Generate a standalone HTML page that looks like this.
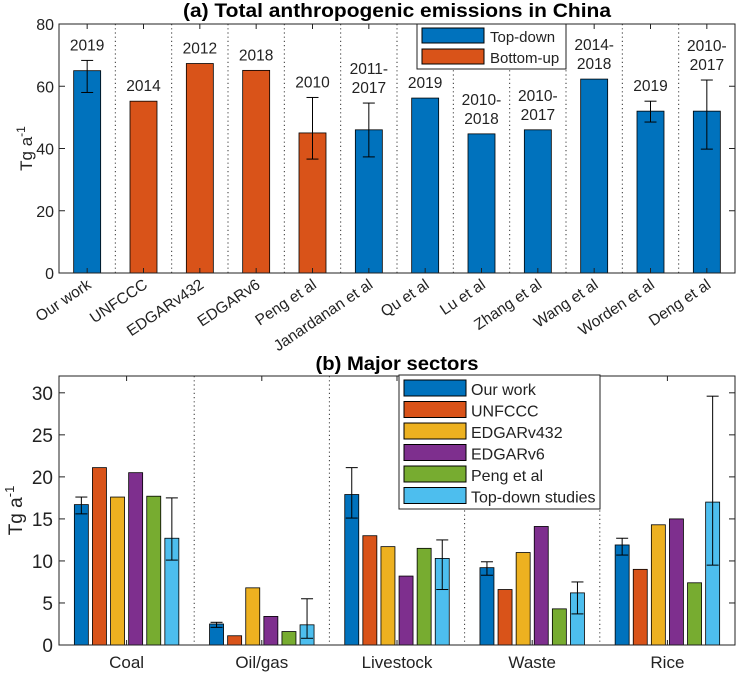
<!DOCTYPE html>
<html><head><meta charset="utf-8"><style>
body{margin:0;background:#fff}
svg{font-family:"Liberation Sans",Arial,sans-serif}
</style></head><body>
<svg id="c" width="736" height="675" viewBox="0 0 736 675" xmlns="http://www.w3.org/2000/svg"></svg>
<script>
// Panel (a)
const catsA=["Our work","UNFCCC","EDGARv432","EDGARv6","Peng et al","Janardanan et al","Qu et al","Lu et al","Zhang et al","Wang et al","Worden et al","Deng et al"];
const valsA=[65,55.2,67.3,65.1,45,46,56.2,44.7,46,62.3,52,52];
const typeA=[0,1,1,1,1,0,0,0,0,0,0,0];
const errLoA=[58,null,null,null,36.6,37.3,null,null,null,null,48.5,39.8];
const errHiA=[68.3,null,null,null,56.4,54.6,null,null,null,null,55.2,62];
const yearsA=[["2019"],["2014"],["2012"],["2018"],["2010"],["2011-","2017"],["2019"],["2010-","2018"],["2010-","2017"],["2014-","2018"],["2019"],["2010-","2017"]];
const ticksA=[0,20,40,60,80];
// Panel (b)
const sectors=["Coal","Oil/gas","Livestock","Waste","Rice"];
const seriesB=["Our work","UNFCCC","EDGARv432","EDGARv6","Peng et al","Top-down studies"];
const vOur=[16.7,2.5,17.9,9.2,11.9];
const vUnf=[21.1,1.1,13,6.6,9];
const vE432=[17.6,6.8,11.7,11,14.3];
const vE6=[20.5,3.4,8.2,14.1,15];
const vPeng=[17.7,1.6,11.5,4.3,7.4];
const vTD=[12.7,2.4,10.3,6.2,17];
const ourLo=[15.6,2.1,15.1,8.3,10.7], ourHi=[17.6,2.7,21.1,9.9,12.7];
const tdLo=[10.1,0.8,6.6,3.7,9.5], tdHi=[17.5,5.5,12.5,7.5,29.6];
const ticksB=[0,5,10,15,20,25,30];

const colors=["#0072BD","#D95319","#EDB120","#7E2F8E","#77AC30","#4DBEEE"];
const svg=document.getElementById('c');
const NS="http://www.w3.org/2000/svg";
function el(t,a,p){const e=document.createElementNS(NS,t);for(const k in a)e.setAttribute(k,a[k]);(p||svg).appendChild(e);return e;}
function txt(s,a,p){const e=el('text',a,p);e.textContent=s;return e;}

// ---- panel a
const L=59,R=735,aT=24,aB=273,aMax=80;
const ya=v=>aB-(v/aMax)*(aB-aT);
const bwA=(R-L)/catsA.length;
const xa=i=>L+bwA*(i+0.5);
const gA=el('g',{});


for(let i=1;i<catsA.length;i++){const x=L+bwA*i;el('line',{x1:x,x2:x,y1:aT,y2:aB,stroke:'#333','stroke-dasharray':'1.2,3','stroke-width':1},gA);}
catsA.forEach((c,i)=>{
  const r=el('rect',{x:xa(i)-13.5,y:ya(valsA[i]),width:27,height:aB-ya(valsA[i]),fill:colors[typeA[i]],stroke:'#000','stroke-width':0.8},gA);
  
  
  let top=ya(valsA[i]);
  if(errLoA[i]!=null){
    const x=xa(i);
    el('line',{x1:x,x2:x,y1:ya(errLoA[i]),y2:ya(errHiA[i]),stroke:'#000'},gA);
    el('line',{x1:x-6,x2:x+6,y1:ya(errLoA[i]),y2:ya(errLoA[i]),stroke:'#000'},gA);
    el('line',{x1:x-6,x2:x+6,y1:ya(errHiA[i]),y2:ya(errHiA[i]),stroke:'#000'},gA);
    top=Math.min(top,ya(errHiA[i]));
  }
  const yr=yearsA[i];
  yr.forEach((s,k)=>{const t=txt(s,{x:xa(i),y:top-10-(yr.length-1-k)*19,'text-anchor':'middle','font-size':15.5,fill:'#222'},gA);
    });
  const lb=txt(c,{transform:`translate(${xa(i)+5},${aB+14}) rotate(-34)`,'text-anchor':'end','font-size':15.5,fill:'#222'},gA);
  
  el('line',{x1:xa(i),x2:xa(i),y1:aB,y2:aB-5,stroke:'#222'},gA);
  el('line',{x1:xa(i),x2:xa(i),y1:aT,y2:aT+5,stroke:'#222'},gA);
});
ticksA.forEach(t=>{const y=ya(t);
  el('line',{x1:L,x2:L+6,y1:y,y2:y,stroke:'#222'},gA);el('line',{x1:R,x2:R-6,y1:y,y2:y,stroke:'#222'},gA);
  const tl=txt(String(t),{x:L-5,y:y+6,'text-anchor':'end','font-size':16,fill:'#222'},gA);
  });
el('rect',{x:L,y:aT,width:R-L,height:aB-aT,fill:'none',stroke:'#222','stroke-width':1},gA);
const ta=txt('(a) Total anthropogenic emissions in China',{x:397,y:17,'text-anchor':'middle','font-size':19,'font-weight':'bold',textLength:428,lengthAdjust:'spacingAndGlyphs'},gA);

const yla=el('text',{transform:`translate(32,${(aT+aB)/2}) rotate(-90)`,'text-anchor':'middle','font-size':17,fill:'#222'},gA);
yla.innerHTML='Tg a<tspan dy="-7" font-size="12">-1</tspan>';

// legend a
const lgA=el('g',{},gA);

el('rect',{x:417,y:24,width:149,height:45,fill:'#fff',stroke:'#222'},lgA);
["Top-down","Bottom-up"].forEach((s,k)=>{
  el('rect',{x:422,y:28+k*21,width:62,height:15,fill:colors[k],stroke:'#000'},lgA);
  const t=txt(s,{x:490,y:42+k*21,'font-size':15,fill:'#222'},lgA);
  
});

// ---- panel b
const bT=376,bB=645,bMax=32;
const yb=v=>bB-(v/bMax)*(bB-bT);
const gw=(R-L)/sectors.length;
const gx=i=>L+gw*(i+0.5);
const gB=el('g',{});

for(let i=1;i<sectors.length;i++){const x=L+gw*i;el('line',{x1:x,x2:x,y1:bT,y2:bB,stroke:'#333','stroke-dasharray':'1.2,3','stroke-width':1},gB);}
const allB=[vOur,vUnf,vE432,vE6,vPeng,vTD];
sectors.forEach((s,i)=>{
  allB.forEach((arr,j)=>{
    const cx=gx(i)+(j-2.5)*18.1;
    const r=el('rect',{x:cx-7,y:yb(arr[i]),width:14,height:bB-yb(arr[i]),fill:colors[j],stroke:'#000','stroke-width':0.8},gB);
    
    
  });
  [[0,ourLo,ourHi],[5,tdLo,tdHi]].forEach(([j,lo,hi])=>{
    const cx=gx(i)+(j-2.5)*18.1;
    el('line',{x1:cx,x2:cx,y1:yb(lo[i]),y2:yb(hi[i]),stroke:'#000'},gB);
    el('line',{x1:cx-6,x2:cx+6,y1:yb(lo[i]),y2:yb(lo[i]),stroke:'#000'},gB);
    el('line',{x1:cx-6,x2:cx+6,y1:yb(hi[i]),y2:yb(hi[i]),stroke:'#000'},gB);
  });
  el('line',{x1:gx(i),x2:gx(i),y1:bB,y2:bB-5,stroke:'#222'},gB);
  el('line',{x1:gx(i),x2:gx(i),y1:bT,y2:bT+5,stroke:'#222'},gB);
  const t=txt(s,{x:gx(i),y:bB+23,'text-anchor':'middle','font-size':17,fill:'#222'},gB);
  
});
ticksB.forEach(t=>{const y=yb(t);
  el('line',{x1:L,x2:L+6,y1:y,y2:y,stroke:'#222'},gB);el('line',{x1:R,x2:R-6,y1:y,y2:y,stroke:'#222'},gB);
  const tl=txt(String(t),{x:L-6,y:y+7,'text-anchor':'end','font-size':19,fill:'#222'},gB);
  });
el('rect',{x:L,y:bT,width:R-L,height:bB-bT,fill:'none',stroke:'#222','stroke-width':1},gB);
const tb=txt('(b) Major sectors',{x:397,y:370,'text-anchor':'middle','font-size':19,'font-weight':'bold',textLength:163,lengthAdjust:'spacingAndGlyphs'},gB);

const ylb=el('text',{transform:`translate(22,${(bT+bB)/2}) rotate(-90)`,'text-anchor':'middle','font-size':19,fill:'#222'},gB);
ylb.innerHTML='Tg a<tspan dy="-8" font-size="13">-1</tspan>';

const lgB=el('g',{},gB);

el('rect',{x:399,y:375,width:201,height:134,fill:'#fff',stroke:'#222'},lgB);
seriesB.forEach((s,k)=>{
  el('rect',{x:404,y:380+k*21.5,width:62,height:16,fill:colors[k],stroke:'#000'},lgB);
  const t=txt(s,{x:471,y:395+k*21.5,'font-size':16,fill:'#222'},lgB);
  
});
</script>
</body></html>
